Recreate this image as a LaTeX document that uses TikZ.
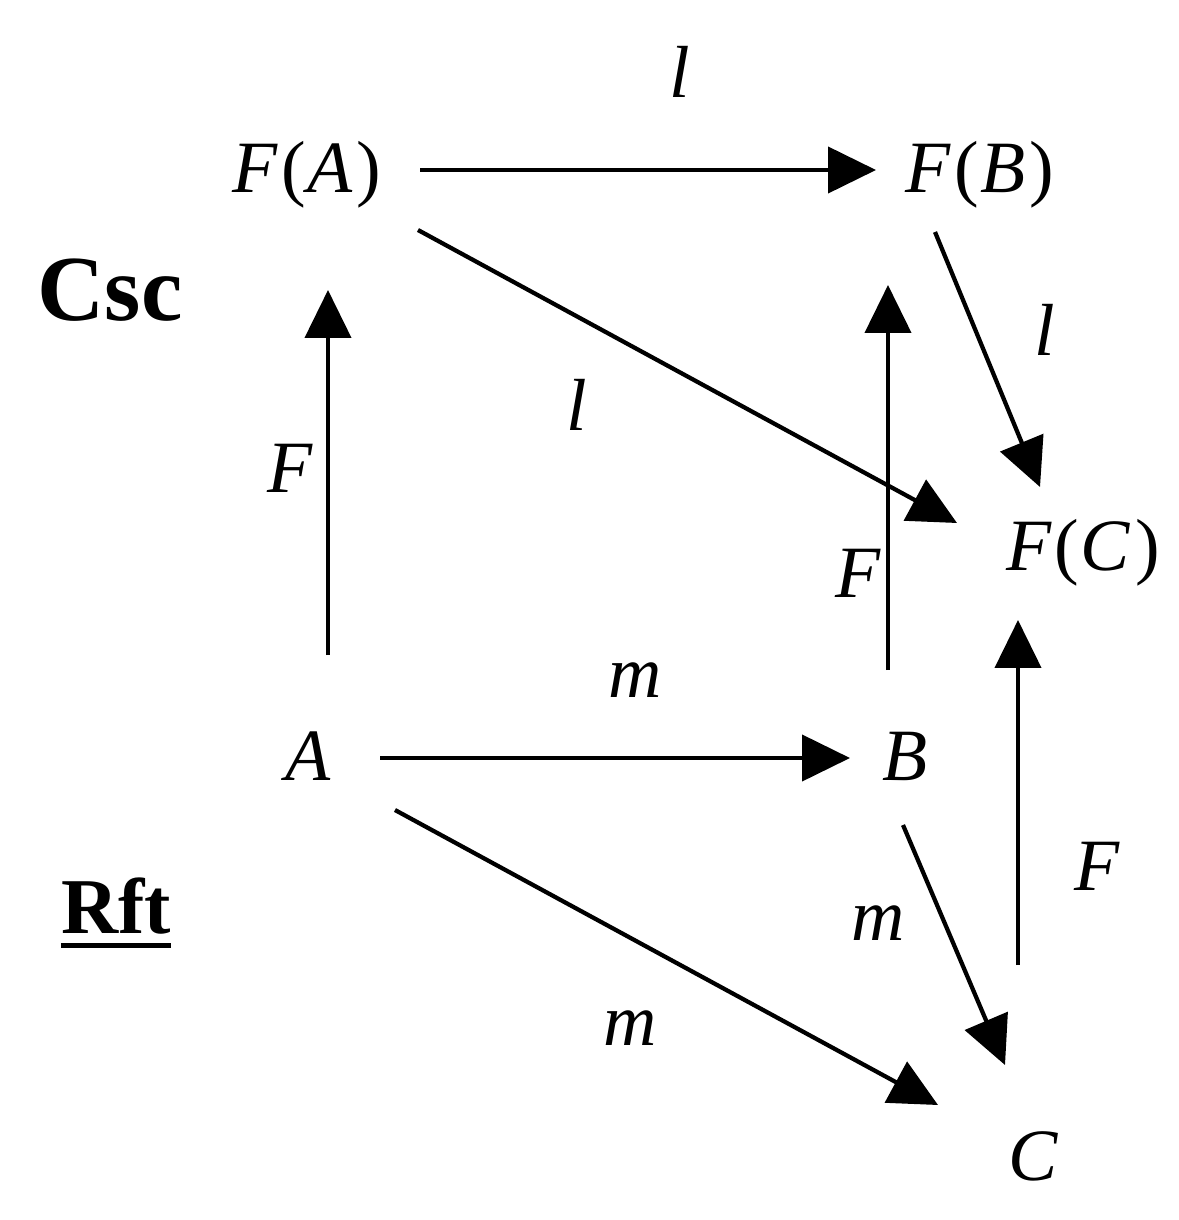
\documentclass[tikz,border=0pt]{standalone}
\usepackage{fontspec}
\setmainfont{Liberation Serif}
\usetikzlibrary{arrows.meta}
\newcommand{\fof}[1]{\textit{F}\kern0.04em(\kern0.02em\textit{#1}\kern0.06em)}
\begin{document}
\begin{tikzpicture}[x=0.02cm,y=-0.02cm,
  obj/.style={inner sep=0pt,anchor=base,font=\fontsize{42}{50}\selectfont},
  lab/.style={inner sep=0pt,anchor=base,font=\fontsize{42}{50}\selectfont\itshape},
  cat/.style={inner sep=0pt,anchor=base,font=\fontsize{53}{60}\selectfont\bfseries},
  arr/.style={line width=0.085cm,-{Triangle[length=0.96cm,width=0.92cm]}}]
\useasboundingbox (0,0) rectangle (1179,1220);
% objects
\node[obj] (fa) at (307,192) {\fof{A}};
\node[obj] (fb) at (980,192) {\fof{B}};
\node[obj] (fc) at (1083,570) {\fof{C}};
\node[obj] (a) at (308,780) {\textit{A}};
\node[obj] (b) at (905,780) {\textit{B}};
\node[obj] (c) at (1033,1180) {\textit{C}};
% category names
\node[cat] (csc) at (110,320) {Csc};
\node[cat,font=\fontsize{45}{52}\selectfont\bfseries] (rft) at (116,933) {Rft};
\draw[line width=0.1cm] ([yshift=-0.24cm]rft.base west) -- ([yshift=-0.24cm]rft.base east);
% labels
\node[lab] (l1) at (680,97) {l};
\node[lab] (l2) at (1045,355) {l};
\node[lab] (l3) at (577,430) {l};
\node[lab] (f1) at (290,492) {F};
\node[lab] (f2) at (858,597) {F};
\node[lab] (f3) at (1097,890) {F};
\node[lab] (m1) at (635,697) {m};
\node[lab] (m2) at (878,940) {m};
\node[lab] (m3) at (630,1045) {m};
% connector ends
\coordinate (fa-r) at (420,170);  \coordinate (fb-l) at (876,170);
\coordinate (fa-d) at (418,230);  \coordinate (fc-ul) at (957,523);
\coordinate (fb-d) at (935,232);  \coordinate (fc-u) at (1040,487);
\coordinate (a-u) at (328,655);   \coordinate (fa-b) at (328,290);
\coordinate (b-u) at (888,670);   \coordinate (fb-b) at (888,285);
\coordinate (c-u) at (1018,965);  \coordinate (fc-b) at (1018,620);
\coordinate (a-r) at (380,758);   \coordinate (b-l) at (850,758);
\coordinate (a-d) at (395,810);   \coordinate (c-ul) at (938,1105);
\coordinate (b-d) at (903,825);   \coordinate (c-u2) at (1005,1065);
% connectors
\draw[arr] (fa-r) -- (fb-l);
\draw[arr] (fa-d) -- (fc-ul);
\draw[arr] (fb-d) -- (fc-u);
\draw[arr] (a-u) -- (fa-b);
\draw[arr] (b-u) -- (fb-b);
\draw[arr] (c-u) -- (fc-b);
\draw[arr] (a-r) -- (b-l);
\draw[arr] (a-d) -- (c-ul);
\draw[arr] (b-d) -- (c-u2);
\end{tikzpicture}
\end{document}
